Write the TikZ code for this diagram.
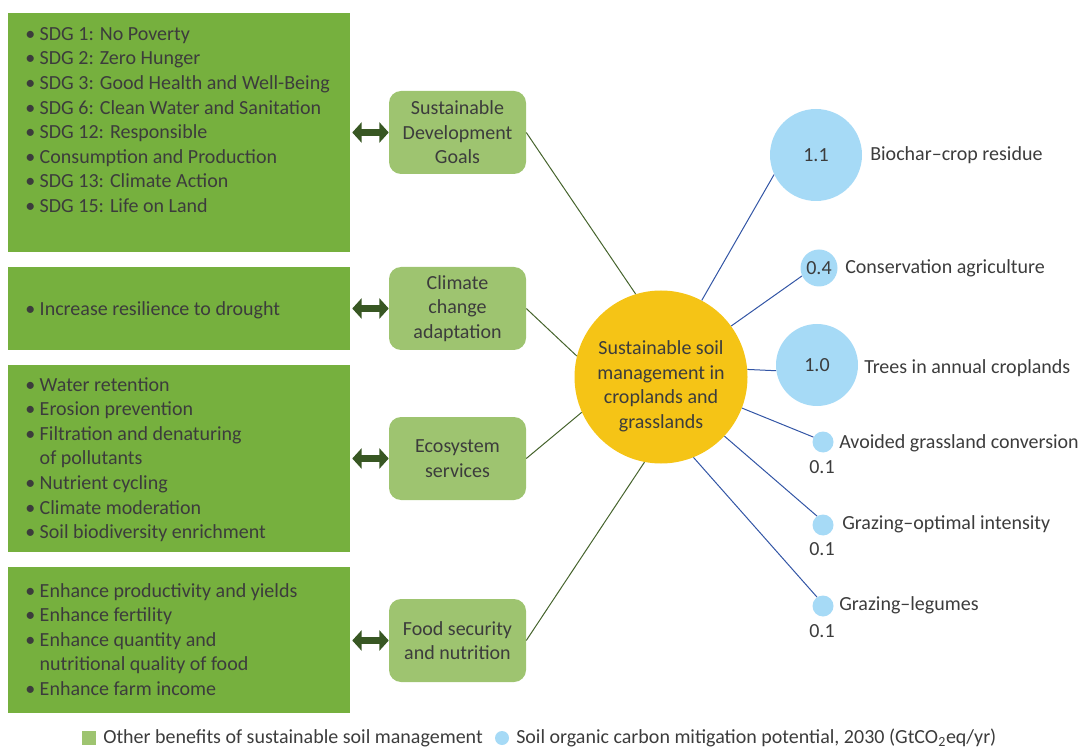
\documentclass[tikz,border=0pt]{standalone}
\usepackage{fontspec}
\setmainfont{Carlito}
\usepackage{xcolor}
\definecolor{boxgreen}{RGB}{118,176,62}
\definecolor{lightgreen}{RGB}{158,196,112}
\definecolor{arrowgreen}{RGB}{56,87,35}
\definecolor{hubyellow}{RGB}{245,196,22}
\definecolor{potblue}{RGB}{166,218,246}
\definecolor{linegreen}{RGB}{70,100,45}
\definecolor{lineblue}{RGB}{50,85,165}
\definecolor{textgray}{RGB}{60,60,60}
\usetikzlibrary{arrows.meta,positioning,shapes.geometric}
\newcommand{\bitem}{\textbullet\ }
\newcommand{\bcont}{\hphantom{\textbullet}\ }

\tikzset{
  benefitbox/.style={fill=boxgreen, minimum width=256.5pt, inner sep=0pt},
  bullettext/.style={anchor=north west, inner sep=0pt, align=left, text=textgray},
  cobenefit/.style={fill=lightgreen, rounded corners=9pt, minimum width=102.75pt, minimum height=62.25pt, align=center, text=textgray, inner sep=0pt},
  potential/.style={circle, fill=potblue, inner sep=0pt, text=textgray},
  potlabel/.style={inner sep=0pt, text=textgray, anchor=west},
  dblarrow/.style={draw=arrowgreen, line width=5.25pt, {Triangle[width=15pt,length=7pt]}-{Triangle[width=15pt,length=7pt]}, shorten <=1.5pt},
  link/.style={draw=linegreen, line width=0.75pt},
  potlink/.style={draw=lineblue, line width=0.75pt}
}

\begin{document}
\begin{tikzpicture}[x=0.75pt, y=-0.75pt, font=\fontsize{15}{18.45}\selectfont]
  \useasboundingbox (0,0) rectangle (1081,748);

  % other benefits
  \node[benefitbox, minimum height=179.25pt] (bx1) at (179,132.5) {};
  \node[benefitbox, minimum height=62.25pt] (bx2) at (179,308.5) {};
  \node[benefitbox, minimum height=140.25pt] (bx3) at (179,458.5) {};
  \node[benefitbox, minimum height=109.5pt] (bx4) at (179,640) {};

  \node[bullettext] (tx1) at (25,27) {\bitem SDG 1: No Poverty\\\bitem SDG 2: Zero Hunger\\\bitem SDG 3: Good Health and Well-Being\\\bitem SDG 6: Clean Water and Sanitation\\\bitem SDG 12: Responsible\\\bitem Consumption and Production\\\bitem SDG 13: Climate Action\\\bitem SDG 15: Life on Land};
  \node[bullettext] (tx2) at (25,301) {\bitem Increase resilience to drought};
  \node[bullettext] (tx3) at (25,377) {\bitem Water retention\\\bitem Erosion prevention\\\bitem Filtration and denaturing\\\bcont of pollutants\\\bitem Nutrient cycling\\\bitem Climate moderation\\\bitem Soil biodiversity enrichment};
  \node[bullettext] (tx4) at (25,583) {\bitem Enhance productivity and yields\\\bitem Enhance fertility\\\bitem Enhance quantity and\\\hphantom{\textbullet\ }nutritional quality of food\\\bitem Enhance farm income};

  % co-benefits
  \node[cobenefit] (sdg) at (457.5,132.5) {Sustainable\\Development\\Goals};
  \node[cobenefit] (clim) at (457.5,308.5) {Climate\\change\\adaptation};
  \node[cobenefit] (eco) at (457.5,458.5) {Ecosystem\\services};
  \node[cobenefit] (food) at (457.5,640.5) {Food security\\and nutrition};

  \draw[dblarrow] (bx1.east |- sdg.west) -- (sdg.west);
  \draw[dblarrow] (bx2.east |- clim.west) -- (clim.west);
  \draw[dblarrow] (bx3.east |- eco.west) -- (eco.west);
  \draw[dblarrow] (bx4.east |- food.west) -- (food.west);

  % hub
  \node[circle, fill=hubyellow, minimum size=129.75pt, inner sep=0pt,
    label={[align=center, text=textgray, yshift=-7pt]center:Sustainable soil\\management in\\croplands and\\grasslands}] (hub) at (661,377) {};

  \draw[link] (sdg.east) -- (hub.107);
  \draw[link] (clim.east) -- (hub.166);
  \draw[link] (eco.east) -- (hub.204);
  \draw[link] (food.east) -- (hub.259);

  % mitigation potentials
  \node[potential, minimum size=69pt] (bc) at (816,155) {1.1};
  \node[potential, minimum size=27.75pt] (ca) at (819,268) {0.4};
  \node[potential, minimum size=61.5pt] (tr) at (817,365) {1.0};
  \node[potential, minimum size=15.75pt] (ag) at (823,442) {};
  \node[potential, minimum size=15.75pt] (go) at (823,525) {};
  \node[potential, minimum size=15.75pt] (gl) at (823,606) {};

  \node[potlabel] (lbc) at (870,155) {Biochar--crop residue};
  \node[potlabel] (lca) at (845,268) {Conservation agriculture};
  \node[potlabel] (ltr) at (864,368) {Trees in annual croplands};
  \node[potlabel] (lag) at (839,443) {Avoided grassland conversion};
  \node[potlabel] (lgo) at (842,524) {Grazing--optimal intensity};
  \node[potlabel] (lgl) at (839,605) {Grazing--legumes};
  \node[inner sep=0pt, text=textgray] (vag) at (822,467) {0.1};
  \node[inner sep=0pt, text=textgray] (vgo) at (822,549) {0.1};
  \node[inner sep=0pt, text=textgray] (vgl) at (822,631) {0.1};

  \draw[potlink] (hub.62) -- (bc.205);
  \draw[potlink] (hub.36) -- (ca.205);
  \draw[potlink] (hub.5) -- (tr.188);
  \draw[potlink] (hub.-21) -- (ag.153);
  \draw[potlink] (hub.-43) -- (go.124);
  \draw[potlink] (hub.-68) -- (gl.124);

  % legend
  \node[fill=lightgreen, minimum size=10.5pt, inner sep=0pt] (lgsq) at (89,738) {};
  \node[potlabel] (lgtx1) at (103,738) {Other benefits of sustainable soil management};
  \node[potential, minimum size=10.5pt] (lgci) at (502,738) {};
  \node[potlabel] (lgtx2) at (516,738) {Soil organic carbon mitigation potential, 2030 (GtCO\textsubscript{2}eq/yr)};
\end{tikzpicture}
\end{document}
